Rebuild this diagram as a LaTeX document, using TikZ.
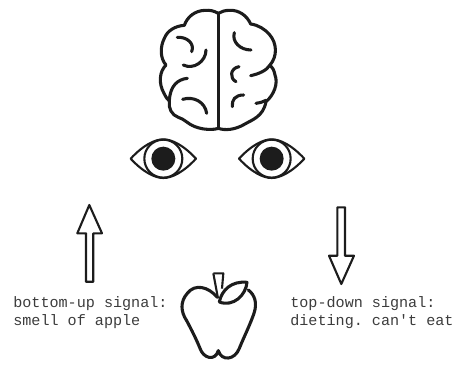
\documentclass[tikz,border=0pt]{standalone}
\usepackage{fontspec}
\setmonofont{Liberation Mono}
\usetikzlibrary{calc}
\definecolor{tinta}{HTML}{1C1C1C}
\definecolor{cinza}{HTML}{3C3C3C}
\tikzset{
  traco/.style={draw=tinta, line width=1.75pt, line cap=round, line join=round},
  fino/.style={draw=tinta, line width=1.2pt, line join=round},
  legenda/.style={text=cinza, anchor=west, align=left, font=\ttfamily\fontsize{8.6}{10.3}\selectfont, inner sep=0pt},
}
\begin{document}
\begin{tikzpicture}[x=0.02cm, y=-0.02cm]
\useasboundingbox (0,0) rectangle (455,365);
% brain
\begin{scope}[shift={(130,0)}, x=0.00667cm, y=-0.00667cm]
\draw[traco] (265,40) .. controls (250,32) and (240,30) .. (225,31)
  .. controls (195,32) and (172,50) .. (163,76)
  .. controls (135,78) and (112,92) .. (103,115)
  .. controls (90,140) and (90,175) .. (108,195)
  .. controls (88,215) and (85,250) .. (102,280)
  .. controls (108,292) and (112,298) .. (118,303)
  .. controls (115,325) and (125,345) .. (145,352)
  .. controls (165,358) and (170,370) .. (195,380)
  .. controls (220,390) and (250,390) .. (265,385)
  .. controls (285,392) and (315,390) .. (345,372)
  .. controls (365,360) and (400,350) .. (408,305)
  .. controls (432,285) and (445,250) .. (435,225)
  .. controls (432,210) and (428,203) .. (420,195)
  .. controls (442,170) and (442,130) .. (418,103)
  .. controls (405,88) and (385,75) .. (362,72)
  .. controls (350,45) and (325,30) .. (300,31)
  .. controls (285,31) and (275,34) .. (265,40) -- cycle;
\draw[traco] (265,40) -- (265,385);
\draw[traco] (142,112) .. controls (170,110) and (195,130) .. (185,155);
\draw[traco] (228,150) .. controls (228,185) and (190,210) .. (160,195);
\draw[traco] (172,235) .. controls (145,238) and (120,255) .. (118,303);
\draw[traco] (158,298) .. controls (190,288) and (225,305) .. (230,340);
\draw[traco] (313,98) .. controls (305,125) and (330,150) .. (363,150);
\draw[traco] (327,200) .. controls (300,205) and (298,235) .. (318,245);
\draw[traco] (362,227) .. controls (385,222) and (410,212) .. (420,195);
\draw[traco] (341,285) .. controls (315,285) and (305,300) .. (307,320);
\draw[traco] (378,310) .. controls (390,308) and (400,306) .. (408,301);
% eyes
\foreach \ex in {100,425}{
  \draw[fino] (\ex-98,476) .. controls (\ex-60,435) and (\ex-25,418) .. (\ex,418)
    .. controls (\ex+25,418) and (\ex+60,435) .. (\ex+98,476)
    .. controls (\ex+60,517) and (\ex+25,534) .. (\ex,534)
    .. controls (\ex-25,534) and (\ex-60,517) .. (\ex-98,476) -- cycle;
  \draw[fino] (\ex,476) circle (57);
  \fill[tinta] (\ex,476) circle (36);
}
\end{scope}
% arrows
\draw[fino] (89.3,205) -- (102,233.3) -- (93.3,233.3) -- (93.3,281.7) -- (86,281.7)
  -- (86,233.3) -- (77.3,233.3) -- cycle;
\draw[fino] (337.3,207.3) -- (345,207.3) -- (345,255.7) -- (354,255.7) -- (341.3,284)
  -- (329,255.7) -- (337.3,255.7) -- cycle;
% apple
\begin{scope}[shift={(0,190)}, x=0.00667cm, y=-0.00667cm]
\draw[traco] (652,322) .. controls (625,290) and (585,280) .. (562,310)
  .. controls (540,335) and (542,365) .. (560,392)
  .. controls (575,420) and (590,450) .. (600,475)
  .. controls (610,505) and (645,515) .. (655,482)
  .. controls (665,515) and (705,510) .. (718,475)
  .. controls (730,445) and (750,405) .. (762,370)
  .. controls (772,340) and (765,315) .. (745,300);
\draw[fino] (640,250) -- (670,250) -- (666,296);
\draw[fino] (640,250) -- (654,325);
\draw[traco, fill=white] (658,336) .. controls (665,300) and (695,272) .. (741,277)
  .. controls (738,315) and (700,352) .. (658,336) -- cycle;
\end{scope}
% captions
\node[legenda] (bottomup) at (13,313) {bottom-up signal:\\smell of apple};
\node[legenda] (topdown) at (290,313) {top-down signal:\\dieting. can't eat};
\end{tikzpicture}
\end{document}
